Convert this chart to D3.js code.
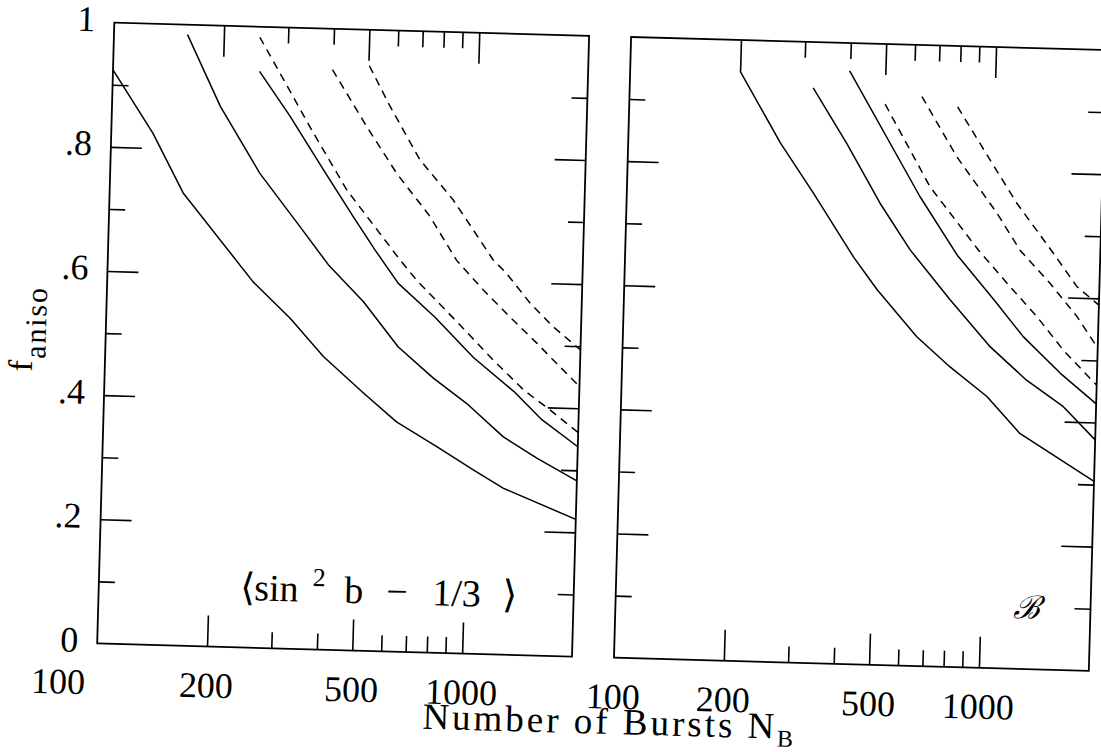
<!DOCTYPE html>
<html>
<head>
<meta charset="utf-8">
<script src="https://cdn.jsdelivr.net/npm/d3@7"></script>
<style>
  body { margin: 0; background: #fff; }
  svg { display: block; background: #fff; }
  text { font-family: "Liberation Serif", "DejaVu Serif", serif; fill: #000; }
</style>
</head>
<body>
<svg id="chart" width="1101" height="752"></svg>
<script>
// ---- data: [number of bursts N_B, f_aniso] ----
// panel 1: <sin^2 b - 1/3> statistic
const sinSolid1 = [[100,0.924],[130,0.824],[159,0.729],[251,0.589],[319,0.532],[396,0.472],[513,0.415],[635,0.370],[822,0.332],[1039,0.296],[1258,0.268],[2000,0.221]];
const sinSolid2 = [[159,0.984],[198,0.870],[257,0.764],[334,0.680],[402,0.620],[505,0.562],[633,0.491],[795,0.442],[984,0.403],[1246,0.351],[1548,0.318],[2000,0.283]];
const sinSolid3 = [[252,0.928],[308,0.857],[384,0.772],[467,0.698],[538,0.646],[627,0.593],[795,0.540],[1020,0.477],[1325,0.424],[1587,0.380],[2000,0.338]];
const sinDash1  = [[251,0.983],[358,0.831],[446,0.741],[631,0.631],[703,0.599],[931,0.529],[1155,0.474],[1408,0.427],[1668,0.396],[2000,0.361]];
const sinDash2  = [[399,0.934],[500,0.844],[609,0.770],[757,0.702],[901,0.633],[1073,0.586],[1274,0.544],[1517,0.503],[1726,0.471],[2000,0.435]];
const sinDash3  = [[503,0.942],[578,0.877],[703,0.793],[873,0.730],[1136,0.635],[1238,0.614],[1445,0.567],[1678,0.530],[2000,0.494]];
// panel 2: B statistic
const bSolid1 = [[200,0.950],[261,0.836],[324,0.757],[423,0.655],[493,0.604],[638,0.530],[791,0.483],[1003,0.437],[1242,0.379],[2000,0.305]];
const bSolid2 = [[318,0.926],[397,0.838],[495,0.743],[602,0.670],[782,0.591],[1016,0.517],[1284,0.465],[1627,0.424],[2000,0.372]];
const bSolid3 = [[399,0.955],[635,0.756],[810,0.664],[1031,0.593],[1248,0.535],[1585,0.478],[2000,0.430]];
const bDash1  = [[502,0.903],[676,0.772],[925,0.673],[1138,0.615],[1355,0.568],[1611,0.515],[2000,0.460]];
const bDash2  = [[632,0.917],[795,0.822],[1037,0.732],[1205,0.674],[1464,0.622],[1744,0.570],[2000,0.520]];
const bDash3  = [[793,0.902],[982,0.818],[1173,0.749],[1486,0.671],[1735,0.618],[2000,0.589]];

// ---- axes ----
const nDomain = [100, 2000];
const fDomain = [0, 1];
const xMajorTicks = [200, 500, 1000];
const xMinorTicks = [300, 400, 600, 700, 800, 900];
const xLabelValues = [100, 200, 500, 1000];
const yMajorTicks = [0.2, 0.4, 0.6, 0.8];
const yMinorTicks = [0.1, 0.3, 0.5, 0.7, 0.9];
const yLabelValues = [0, 0.2, 0.4, 0.6, 0.8, 1];
const yLabelText = ["0", ".2", ".4", ".6", ".8", "1"];

// ---- layout ----
const originX = 114.3, originY = 22.7;   // top-left corner of the first panel
const panelW = 475, panelH = 621, panelStep = 517;
const tilt = 1.58;                        // the whole figure sits slightly rotated
const longTick = 31, shortTick = 16;
const serif = "'Liberation Serif', 'DejaVu Serif', serif";

const svg = d3.select("#chart");
const root = svg.append("g")
  .attr("transform", `rotate(${tilt},${originX},${originY})`);

const x = d3.scaleLog().domain(nDomain).range([0, panelW]);
const y = d3.scaleLinear().domain(fDomain).range([panelH, 0]);

const line = d3.line().x(d => x(d[0])).y(d => y(d[1]));

function ticks(g, axisFn, scale, values, size, transform) {
  const a = g.append("g")
    .attr("transform", transform || null)
    .call(axisFn(scale).tickValues(values).tickSize(-size).tickFormat(""));
  a.select(".domain").remove();
  a.selectAll("line").attr("stroke", "#000").attr("stroke-width", 1.6);
}

function drawPanel(offsetX, solids, dashes, opts) {
  const g = root.append("g").attr("transform", `translate(${originX + offsetX},${originY})`);

  // frame
  g.append("rect")
    .attr("x", 0).attr("y", 0).attr("width", panelW).attr("height", panelH)
    .attr("fill", "none").attr("stroke", "#000").attr("stroke-width", 1.8);

  // inward ticks on all four sides
  ticks(g, d3.axisTop, x, xMajorTicks, longTick);
  ticks(g, d3.axisTop, x, xMinorTicks, shortTick);
  ticks(g, d3.axisBottom, x, xMajorTicks, longTick, `translate(0,${panelH})`);
  ticks(g, d3.axisBottom, x, xMinorTicks, shortTick, `translate(0,${panelH})`);
  ticks(g, d3.axisLeft, y, yMajorTicks, longTick);
  ticks(g, d3.axisLeft, y, yMinorTicks, shortTick);
  ticks(g, d3.axisRight, y, yMajorTicks, longTick, `translate(${panelW},0)`);
  ticks(g, d3.axisRight, y, yMinorTicks, shortTick, `translate(${panelW},0)`);

  // curves
  g.selectAll("path.solid").data(solids).join("path")
    .attr("class", "solid")
    .attr("d", line)
    .attr("fill", "none").attr("stroke", "#000").attr("stroke-width", 1.5)
    .attr("stroke-linejoin", "round");
  g.selectAll("path.dashed").data(dashes).join("path")
    .attr("class", "dashed")
    .attr("d", line)
    .attr("fill", "none").attr("stroke", "#000").attr("stroke-width", 1.5)
    .attr("stroke-dasharray", "8,6");

  // x tick labels
  g.selectAll("text.xlab").data(xLabelValues).join("text")
    .attr("class", "xlab")
    .attr("x", d => x(d) + (d === 100 ? opts.firstLabelShift : 0))
    .attr("y", panelH + 51)
    .attr("text-anchor", "middle")
    .attr("font-family", serif)
    .attr("font-size", 36)
    .text(d => d);

  // y tick labels
  if (opts.yLabels) {
    g.selectAll("text.ylab").data(yLabelValues).join("text")
      .attr("class", "ylab")
      .attr("x", -19)
      .attr("y", d => y(d) + 9)
      .attr("text-anchor", "end")
      .attr("font-family", serif)
      .attr("font-size", 36)
      .text((d, i) => yLabelText[i]);
  }
  return g;
}

const p1 = drawPanel(0,
  [sinSolid1, sinSolid2, sinSolid3],
  [sinDash1, sinDash2, sinDash3],
  { yLabels: true, firstLabelShift: -38 });

const p2 = drawPanel(panelStep,
  [bSolid1, bSolid2, bSolid3],
  [bDash1, bDash2, bDash3],
  { yLabels: false, firstLabelShift: 0 });

// statistic names inside the panels
const ann = p1.append("text")
  .attr("x", 141.6).attr("y", panelH - 47.4)
  .attr("font-family", serif)
  .attr("font-size", 38);
const annParts = [
  { t: "\u27E8", dx: 0 }, { t: "sin", dx: 14 }, { t: "2", dx: 72, sup: true },
  { t: "b", dx: 104 }, { t: "\u2212", dx: 146 }, { t: "1/3", dx: 192 }, { t: "\u27E9", dx: 262 }
];
annParts.forEach(p => {
  ann.append("tspan")
    .attr("x", 141.6 + p.dx)
    .attr("y", panelH - 47.4 - (p.sup ? 16 : 0))
    .attr("font-size", p.sup ? 26 : 38)
    .text(p.t);
});

p2.append("text")
  .attr("x", 1029 - originX - panelStep).attr("y", 593 - originY)
  .attr("font-family", "'DejaVu Serif', 'DejaVu Sans', serif")
  .attr("font-style", "italic")
  .attr("font-size", 32)
  .text("\u212C");

// axis titles
const yTitle = root.append("text")
  .attr("transform", `translate(41.5,332) rotate(-90)`)
  .attr("text-anchor", "middle")
  .attr("font-family", serif)
  .attr("font-size", 34)
  .attr("textLength", 84)
  .attr("lengthAdjust", "spacing");
yTitle.append("tspan").text("f");
yTitle.append("tspan").attr("font-size", 30).attr("dy", 13).text("aniso");

const xTitle = root.append("text")
  .attr("x", 441.5).attr("y", 720)
  .attr("font-family", serif)
  .attr("font-size", 37)
  .attr("textLength", 371)
  .attr("lengthAdjust", "spacing");
xTitle.append("tspan").text("Number of Bursts N");
xTitle.append("tspan").attr("font-size", 24).attr("dy", 8).text("B");
</script>
</body>
</html>
